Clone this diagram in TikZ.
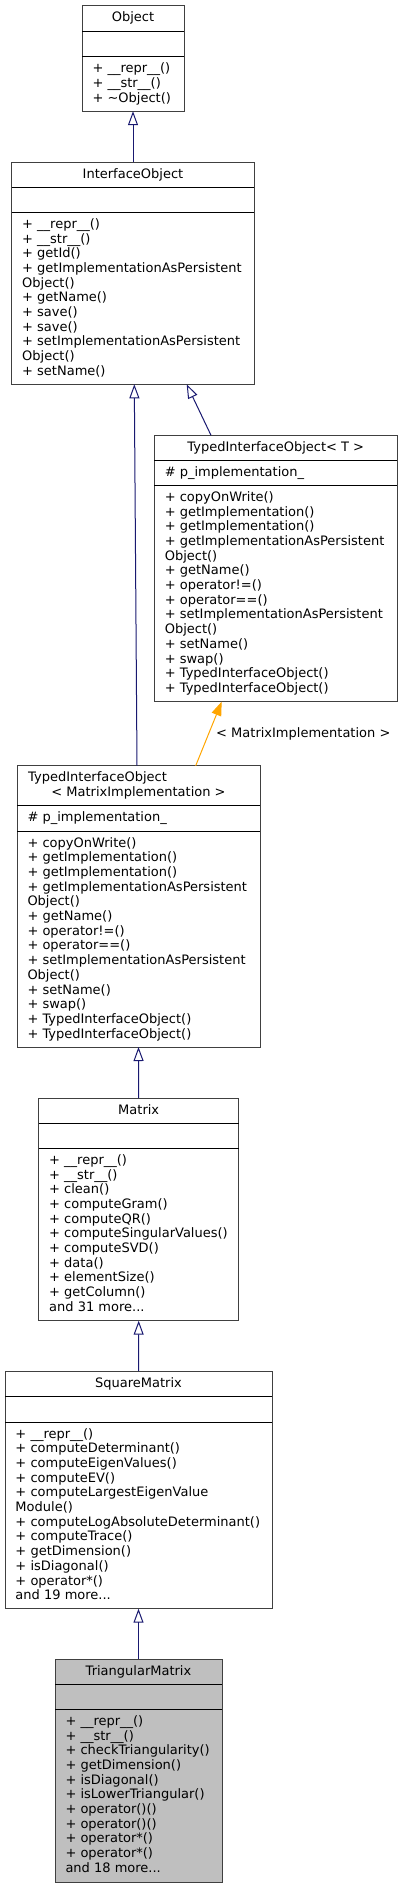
\documentclass[tikz,border=0pt]{standalone}
\usepackage{fontspec}
\setmainfont{DejaVu Sans}
\usetikzlibrary{arrows.meta,calc}
\definecolor{edgeblue}{HTML}{191970}
\definecolor{edgeorange}{HTML}{FFA500}
\definecolor{boxline}{HTML}{404040}
\definecolor{trifill}{HTML}{BFBFBF}
\newcommand\fl{\rule{0pt}{10.5pt}}
\newcommand\umlbox[8]{%
  \node[classbox, fill=#8, anchor=north west, minimum width=#4-#2, minimum height=#5-#3] (#1) at (#2,#3) {};
  \draw[sepline] (#2,#6) -- (#4,#6);
  \draw[sepline] (#2,#7) -- (#4,#7);
}
\tikzset{
  classbox/.style={draw=boxline, line width=1pt, inner sep=0pt, outer sep=0pt},
  sepline/.style={draw=black, line width=0.9pt},
  memtext/.style={anchor=north west, inner sep=0pt, align=left, font=\fontsize{13}{14.7}\selectfont},
  classtitle/.style={anchor=base, inner sep=0pt, font=\fontsize{13}{14.7}\selectfont},
  inh/.style={draw=edgeblue, line width=1pt, -{Triangle[open, length=14pt, width=10pt]}},
  tmpl/.style={draw=edgeorange, line width=1pt, -{Triangle[length=14pt, width=10pt]}},
}
\begin{document}
\begin{tikzpicture}[x=1pt,y=-1pt]
\useasboundingbox (0,0) rectangle (403,1888);

% Object
\umlbox{obj}{82}{5.7}{184}{111.2}{31.7}{56.7}{white}
\node[classtitle] (objt) at (133,21.7) {Object};
\node[memtext] (objm) at (92.3,62.0) {\fl+ \_\_repr\_\_()\\+ \_\_str\_\_()\\+ \textasciitilde Object()};

% InterfaceObject
\umlbox{io}{11.7}{162}{254.3}{384.3}{187}{212.3}{white}
\node[classtitle] (iot) at (133,178) {InterfaceObject};
\node[memtext] (iom) at (22.0,217.6) {\fl+ \_\_repr\_\_()\\+ \_\_str\_\_()\\+ getId()\\+ getImplementationAsPersistent\\Object()\\+ getName()\\+ save()\\+ save()\\+ setImplementationAsPersistent\\Object()\\+ setName()};

% TypedInterfaceObject< T >
\umlbox{tt}{154.3}{435.3}{397.3}{701.6}{460.3}{485.3}{white}
\node[classtitle] (ttt) at (275.8,451.3) {TypedInterfaceObject< T >};
\node[memtext] (tta) at (164.6,465.6) {\fl\# p\_implementation\_};
\node[memtext] (ttm) at (164.6,490.6) {\fl+ copyOnWrite()\\+ getImplementation()\\+ getImplementation()\\+ getImplementationAsPersistent\\Object()\\+ getName()\\+ operator!=()\\+ operator==()\\+ setImplementationAsPersistent\\Object()\\+ setName()\\+ swap()\\+ TypedInterfaceObject()\\+ TypedInterfaceObject()};

% TypedInterfaceObject< MatrixImplementation >
\umlbox{tmi}{17}{765.7}{260}{1047}{805.7}{831}{white}
\node[classtitle, anchor=base west] (tmit) at (28,781.7) {TypedInterfaceObject};
\node[classtitle] (tmit2) at (138.5,796.4) {< MatrixImplementation >};
\node[memtext] (tmia) at (27.3,811.0) {\fl\# p\_implementation\_};
\node[memtext] (tmim) at (27.3,836.3) {\fl+ copyOnWrite()\\+ getImplementation()\\+ getImplementation()\\+ getImplementationAsPersistent\\Object()\\+ getName()\\+ operator!=()\\+ operator==()\\+ setImplementationAsPersistent\\Object()\\+ setName()\\+ swap()\\+ TypedInterfaceObject()\\+ TypedInterfaceObject()};

% Matrix
\umlbox{mat}{38.7}{1098}{238.7}{1320.7}{1123}{1148.3}{white}
\node[classtitle] (matt) at (138.7,1114) {Matrix};
\node[memtext] (matm) at (49.0,1153.6) {\fl+ \_\_repr\_\_()\\+ \_\_str\_\_()\\+ clean()\\+ computeGram()\\+ computeQR()\\+ computeSingularValues()\\+ computeSVD()\\+ data()\\+ elementSize()\\+ getColumn()\\and 31 more...};

% SquareMatrix
\umlbox{sq}{5}{1371}{272}{1608.7}{1396.7}{1422}{white}
\node[classtitle] (sqt) at (138.5,1387) {SquareMatrix};
\node[memtext] (sqm) at (15.3,1427.3) {\fl+ \_\_repr\_\_()\\+ computeDeterminant()\\+ computeEigenValues()\\+ computeEV()\\+ computeLargestEigenValue\\Module()\\+ computeLogAbsoluteDeterminant()\\+ computeTrace()\\+ getDimension()\\+ isDiagonal()\\+ operator*()\\and 19 more...};

% TriangularMatrix
\umlbox{tri}{55}{1659.3}{222}{1882}{1684.3}{1709.3}{trifill}
\node[classtitle] (trit) at (138.5,1675.3) {TriangularMatrix};
\node[memtext] (trim) at (65.3,1714.6) {\fl+ \_\_repr\_\_()\\+ \_\_str\_\_()\\+ checkTriangularity()\\+ getDimension()\\+ isDiagonal()\\+ isLowerTriangular()\\+ operator()()\\+ operator()()\\+ operator*()\\+ operator*()\\and 18 more...};

% Connectors
\draw[inh] (io.north) -- (obj.south);
\draw[inh] ($(tmi.north)+(-1.5,0)$) -- ($(io.south)+(1.3,0)$);
\draw[inh] ($(tt.north)+(-64.8,0)$) -- ($(io.south)+(53.7,0)$);
\draw[tmpl] ($(tmi.north)+(57.2,0)$) -- ($(tt.south)+(-54.1,0)$)
  node[pos=0.5, anchor=west, xshift=7pt, inner sep=0pt, font=\fontsize{13}{14.7}\selectfont, text=black] (lbl) {< MatrixImplementation >};
\draw[inh] (mat.north) -- (tmi.south);
\draw[inh] (sq.north) -- (mat.south);
\draw[inh] (tri.north) -- (sq.south);
\end{tikzpicture}
\end{document}
